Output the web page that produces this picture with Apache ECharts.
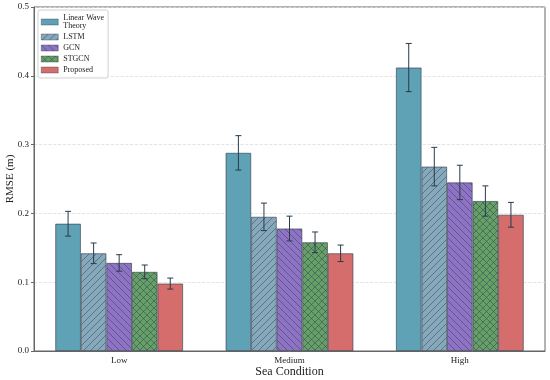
<!DOCTYPE html>
<html><head><meta charset="utf-8">
<script src="https://cdn.jsdelivr.net/npm/echarts@6/dist/echarts.min.js"></script>
<style>html,body{margin:0;padding:0;background:#fff}#c{width:550px;height:380px}</style>
</head><body><div id="c"></div>
<script>
var categories = ['Low', 'Medium', 'High'];
var seriesNames = ['Linear Wave\nTheory', 'LSTM', 'GCN', 'STGCN', 'Proposed'];
var linearWave = [0.185, 0.288, 0.412];
var lstm = [0.142, 0.195, 0.268];
var gcn = [0.128, 0.178, 0.245];
var stgcn = [0.115, 0.158, 0.218];
var proposed = [0.098, 0.142, 0.198];
var linearWaveErr = [0.018, 0.025, 0.035];
var lstmErr = [0.015, 0.020, 0.028];
var gcnErr = [0.012, 0.018, 0.025];
var stgcnErr = [0.010, 0.015, 0.022];
var proposedErr = [0.008, 0.012, 0.018];
var yTicks = [0.0, 0.1, 0.2, 0.3, 0.4, 0.5];

var values = [linearWave, lstm, gcn, stgcn, proposed];
var errs = [linearWaveErr, lstmErr, gcnErr, stgcnErr, proposedErr];
var baseColors = ['#5fa1b5', '#86a8bb', '#8e73c4', '#67a067', '#d56d6d'];
var hatches = [null, 'fwd', 'back', 'cross', null];

function makePattern(bg, type) {
  if (!type) return bg;
  var s = 7;
  var c = document.createElement('canvas');
  c.width = s; c.height = s;
  var g = c.getContext('2d');
  g.fillStyle = bg; g.fillRect(0, 0, s, s);
  g.strokeStyle = 'rgba(40,60,80,0.6)';
  g.lineWidth = 0.8;
  function fwd() {
    g.beginPath();
    g.moveTo(0, s); g.lineTo(s, 0);
    g.moveTo(-1, 1); g.lineTo(1, -1);
    g.moveTo(s - 1, s + 1); g.lineTo(s + 1, s - 1);
    g.stroke();
  }
  function back() {
    g.beginPath();
    g.moveTo(0, 0); g.lineTo(s, s);
    g.moveTo(-1, s - 1); g.lineTo(1, s + 1);
    g.moveTo(s - 1, -1); g.lineTo(s + 1, 1);
    g.stroke();
  }
  if (type === 'fwd') fwd();
  if (type === 'back') back();
  if (type === 'cross') { fwd(); back(); }
  return { image: c, repeat: 'repeat' };
}

var barWidthFrac = 0.15;
var series = [];
values.forEach(function (v, i) {
  series.push({
    name: seriesNames[i],
    type: 'bar',
    data: v,
    barWidth: (barWidthFrac * 100) + '%',
    barGap: '0%',
    itemStyle: { color: makePattern(baseColors[i], hatches[i]), borderColor: 'rgba(45,55,70,0.75)', borderWidth: 0.8 }
  });
});
values.forEach(function (v, i) {
  var data = v.map(function (val, k) { return [k, val - errs[i][k], val + errs[i][k]]; });
  series.push({
    type: 'custom',
    name: 'err' + i,
    data: data,
    z: 10,
    silent: true,
    renderItem: function (params, api) {
      var k = api.value(0);
      var band = api.size([1, 0])[0];
      var off = (i - 2) * band * barWidthFrac;
      var lo = api.coord([k, api.value(1)]);
      var hi = api.coord([k, api.value(2)]);
      var x = lo[0] + off;
      var cap = 3;
      var st = { stroke: '#2b3a4a', lineWidth: 1 };
      return {
        type: 'group',
        children: [
          { type: 'line', shape: { x1: x, y1: lo[1], x2: x, y2: hi[1] }, style: st },
          { type: 'line', shape: { x1: x - cap, y1: lo[1], x2: x + cap, y2: lo[1] }, style: st },
          { type: 'line', shape: { x1: x - cap, y1: hi[1], x2: x + cap, y2: hi[1] }, style: st }
        ]
      };
    }
  });
});

var chart = echarts.init(document.getElementById('c'), null, { renderer: 'canvas' });
chart.setOption({
  animation: false,
  textStyle: { fontFamily: 'Liberation Serif' },
  grid: { left: 34, right: 5, top: 7, bottom: 29, containLabel: false, outerBoundsMode: 'none', show: true, borderColor: '#666', borderWidth: 1, backgroundColor: 'transparent' },
  legend: {
    data: seriesNames,
    orient: 'vertical',
    left: 38, top: 10,
    icon: 'rect',
    itemWidth: 17, itemHeight: 6, itemGap: 3,
    itemStyle: { borderWidth: 0.5, borderColor: 'rgba(45,55,70,0.75)' },
    padding: [4, 4, 4, 3],
    borderColor: '#d0d0d0', borderWidth: 1, borderRadius: 2,
    backgroundColor: 'rgba(255,255,255,0.8)',
    textStyle: { fontFamily: 'Liberation Serif', fontSize: 8, color: '#222', lineHeight: 8 }
  },
  xAxis: {
    type: 'category',
    data: categories,
    name: 'Sea Condition',
    nameLocation: 'middle',
    nameGap: 15,
    nameMoveOverlap: false,
    nameTextStyle: { fontFamily: 'Liberation Serif', fontSize: 12, color: '#222' },
    axisLine: { lineStyle: { color: '#666' } },
    axisTick: { alignWithLabel: true, length: 3, lineStyle: { color: '#666' } },
    axisLabel: { fontFamily: 'Liberation Serif', fontSize: 9, color: '#222', margin: 5 }
  },
  yAxis: {
    type: 'value',
    min: yTicks[0], max: yTicks[yTicks.length - 1], interval: 0.1,
    name: 'RMSE (m)',
    nameLocation: 'middle',
    nameGap: 18,
    nameMoveOverlap: false,
    nameTextStyle: { fontFamily: 'Liberation Serif', fontSize: 11, color: '#222' },
    axisLine: { show: true, lineStyle: { color: '#666' } },
    axisTick: { show: true, length: 3, lineStyle: { color: '#666' } },
    axisLabel: { fontFamily: 'Liberation Serif', fontSize: 9, color: '#222', margin: 5, formatter: function (v) { return v.toFixed(1); } },
    splitLine: { show: true, lineStyle: { color: '#ddd', type: 'dashed', width: 0.8 } }
  },
  series: series
});
</script>
</body></html>
